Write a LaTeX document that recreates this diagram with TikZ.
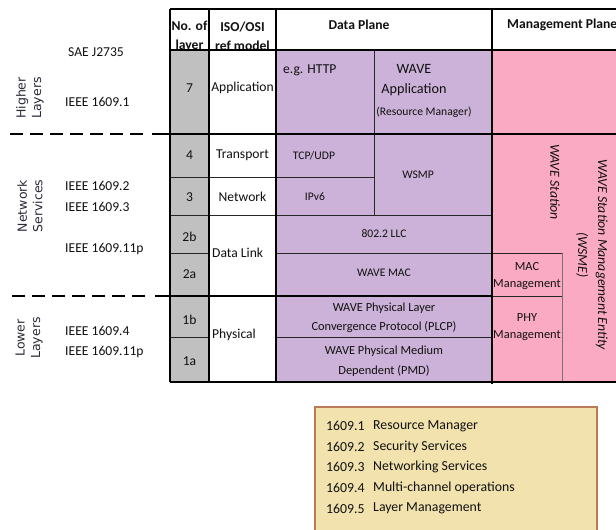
\documentclass[tikz,border=0pt]{standalone}
\usepackage{fontspec}
\setmainfont{Carlito}
\newfontfamily\lblfont{DejaVu Sans}
\definecolor{graycell}{HTML}{C0C0C0}
\definecolor{purp}{HTML}{CCB1D8}
\definecolor{pinkc}{HTML}{FBAAC4}
\definecolor{tanfill}{HTML}{F1E2AE}
\definecolor{brownb}{HTML}{B97A57}
\definecolor{lbl}{HTML}{2A2A3A}
\definecolor{txt}{HTML}{111111}
\begin{document}
\begin{tikzpicture}[x=1pt,y=-1pt,
  every node/.style={inner sep=0pt, text=txt},
  main/.style={font=\fontsize{13.6}{19}\selectfont, align=center},
  hdr/.style={font=\bfseries\fontsize{13.6}{19}\selectfont, align=center},
  small/.style={font=\fontsize{11.6}{14}\selectfont, align=center},
  mid/.style={font=\fontsize{12.4}{19.5}\selectfont, align=center},
  mgmt/.style={font=\fontsize{12.4}{17}\selectfont, align=center},
  sidelbl/.style={font=\lblfont\fontsize{12.5}{15.5}\selectfont, align=center, text=lbl, rotate=90},
  vlbl/.style={font=\itshape\fontsize{13.8}{20}\selectfont, align=center, rotate=-90},
  thick3/.style={line width=2.6pt, black},
  thin1/.style={line width=0.9pt, black!85},
  colline/.style={line width=1.5pt, black},
  dashline/.style={line width=2.8pt, black, dash pattern=on 13pt off 7pt},
  legtxt/.style={font=\fontsize{13.8}{16}\selectfont, anchor=west}
]
\useasboundingbox (0,0) rectangle (616,530);
\fill[white] (0,0) rectangle (616,530);

% cell fills
\fill[graycell] (170,50) rectangle (209,382);
\fill[purp] (276,50) rectangle (492,382);
\fill[pinkc] (492,50) rectangle (616,382);

% thin lines
\draw[thin1] (170,177) -- (276,177);
\draw[thin1] (170,215) -- (276,215);
\draw[thin1] (170,253) -- (209,253);
\draw[thin1] (170,337) -- (209,337);
\draw[thin1] (374,50) -- (374,215);
\draw[thin1] (276,177) -- (374,177);
\draw[thin1] (276,215) -- (492,215);
\draw[thin1] (276,253) -- (562,253);
\draw[thin1] (276,337) -- (492,337);
\draw[thin1] (492,296) -- (562,296);
\draw[line width=0.9pt, black!55] (562,253) -- (562,382);

% header text (drawn before the row line, which clips it as in the original)
\node[hdr] (hno) at (189.5,36) {No. of\\layer};
\node[hdr] (hiso) at (242.5,36) {ISO/OSI\\ref model};
\node[hdr] (hdp) at (359,24.5) {Data Plane};
\node[hdr, anchor=west] (hmp) at (507,24.5) {Management Plane};
\fill[graycell] (171.5,51.5) rectangle (208,56);
\fill[white] (210,51.5) rectangle (275,56);

% column lines
\draw[colline] (209,9) -- (209,382);
\draw[colline] (276,9) -- (276,382);

% thick lines
\draw[thick3] (170,9) -- (616,9);
\draw[thick3] (170,50) -- (616,50);
\draw[thick3] (170,134) -- (616,134);
\draw[thick3] (170,296) -- (492,296);
\draw[thick3] (170,382) -- (616,382);
\draw[thick3] (170,9) -- (170,382);
\draw[thick3] (492,9) -- (492,384);

% dashed separators on the left
\draw[dashline] (10,134) -- (146,134);
\draw[thick3] (152,134) -- (170,134);
\draw[dashline] (12,296) -- (148,296);
\draw[thick3] (155,296) -- (170,296);

% left labels
\node[sidelbl] (hl) at (30,98) {Higher\\Layers};
\node[sidelbl] (ns) at (30,206) {Network\\Services};
\node[sidelbl] (ll) at (29,338) {Lower\\Layers};

\node[main, anchor=west] (sae) at (68,52) {SAE J2735};
\node[main, anchor=west] (i1) at (65,102) {IEEE 1609.1};
\node[main, anchor=west] (i2) at (65,186) {IEEE 1609.2};
\node[main, anchor=west] (i3) at (65,207) {IEEE 1609.3};
\node[main, anchor=west] (i11a) at (65,249) {IEEE 1609.11p};
\node[main, anchor=west] (i4) at (65,331) {IEEE 1609.4};
\node[main, anchor=west] (i11b) at (65,352) {IEEE 1609.11p};

% layer numbers
\node[main] (n7) at (189.5,88) {7};
\node[main] (n4) at (189.5,155) {4};
\node[main] (n3) at (189.5,197) {3};
\node[main] (n2b) at (189.5,237) {2b};
\node[main] (n2a) at (189.5,274) {2a};
\node[main] (n1b) at (189.5,320) {1b};
\node[main] (n1a) at (189.5,361) {1a};

% ISO names
\node[main] (iapp) at (242.5,88) {Application};
\node[main] (itr) at (242.5,155) {Transport};
\node[main] (inet) at (242.5,197) {Network};
\node[main, anchor=west] (idl) at (212,253) {Data Link};
\node[main, anchor=west] (iph) at (212,335) {Physical};

% data plane
\node[main, anchor=west] (http) at (283,70) {e.g. HTTP};
\node[font=\fontsize{14.2}{20}\selectfont, align=center] (wapp) at (414,80) {WAVE\\Application};
\node[small] (rm) at (424,112) {(Resource Manager)};
\node[small] (tcp) at (314,156) {TCP/UDP};
\node[small] (ipv6) at (315,197) {IPv6};
\node[small] (wsmp) at (418,175) {WSMP};
\node[small] (llc) at (384,234) {802.2 LLC};
\node[small] (mac) at (384,273) {WAVE MAC};
\node[mid] (plcp) at (384,318) {WAVE Physical Layer\\Convergence Protocol (PLCP)};
\node[mid] (pmd) at (384,361) {WAVE Physical Medium\\Dependent (PMD)};

% management plane
\node[mgmt] (macm) at (527,276) {MAC\\Management};
\node[mgmt] (phym) at (527,327) {PHY\\Management};
\node[vlbl] (ws) at (555,182) {WAVE Station};
\node[vlbl] (wsme) at (592,255) {WAVE Station Management Entity\\(WSME)};

% legend
\fill[tanfill] (315,407) rectangle (597,531);
\draw[brownb, line width=2pt] (315,531) -- (315,407) -- (597,407) -- (597,531);
\node[legtxt] (l1n) at (326,426) {1609.1};
\node[legtxt] (l1t) at (373,426) {Resource Manager};
\node[legtxt] (l2n) at (326,446.5) {1609.2};
\node[legtxt] (l2t) at (373,446.5) {Security Services};
\node[legtxt] (l3n) at (326,467) {1609.3};
\node[legtxt] (l3t) at (373,467) {Networking Services};
\node[legtxt] (l4n) at (326,488) {1609.4};
\node[legtxt] (l4t) at (373,488) {Multi-channel operations};
\node[legtxt] (l5n) at (326,508.5) {1609.5};
\node[legtxt] (l5t) at (373,508.5) {Layer Management};
\end{tikzpicture}
\end{document}
